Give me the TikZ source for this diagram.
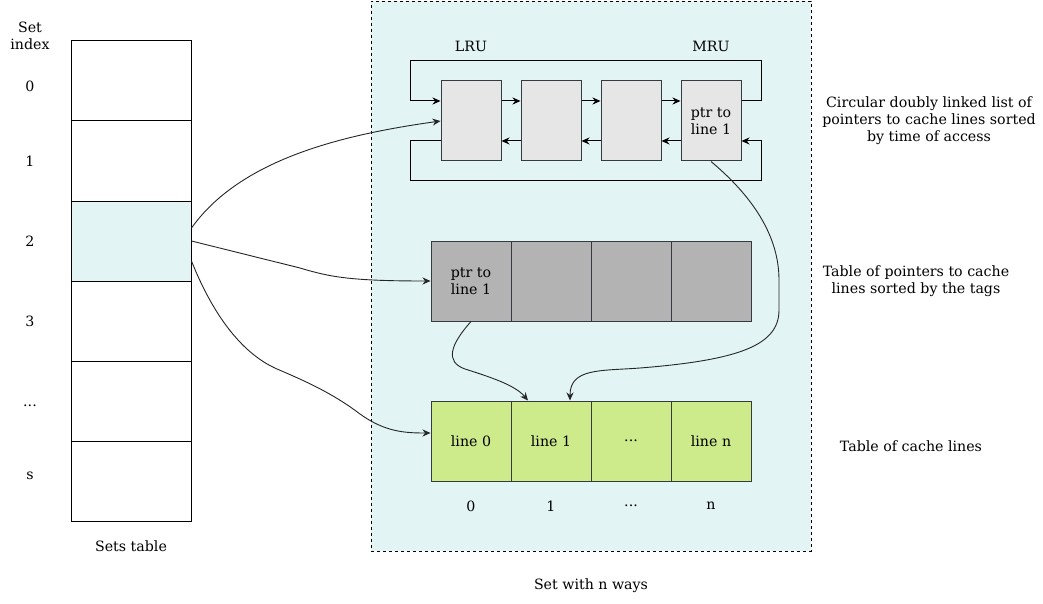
\documentclass[tikz,border=0pt]{standalone}
\usepackage{fontspec}
\setmainfont{DejaVu Serif}
\usetikzlibrary{arrows.meta}
\definecolor{setbg}{HTML}{E2F4F4}
\definecolor{lledge}{HTML}{36393D}
\definecolor{llfill}{HTML}{E6E6E6}
\definecolor{ptrfill}{HTML}{B3B3B3}
\definecolor{linefill}{HTML}{CDEB8B}
\tikzset{
  settab/.style={draw=black, line width=1pt, minimum width=120pt, minimum height=80pt, inner sep=0pt, fill=white},
  llbox/.style={draw=lledge, line width=1pt, fill=llfill, minimum width=60pt, minimum height=80pt, inner sep=0pt, align=center},
  ptrcell/.style={draw=lledge, line width=1pt, fill=ptrfill, minimum width=80pt, minimum height=80pt, inner sep=0pt, align=center},
  linecell/.style={draw=lledge, line width=1pt, fill=linefill, minimum width=80pt, minimum height=80pt, inner sep=0pt, align=center},
  lbl/.style={inner sep=0pt, align=center},
  arr/.style={draw=black, line width=1pt, -{Stealth[length=8pt,width=7pt]}},
  curv/.style={draw=black!85, line width=0.9pt, -{Stealth[length=8pt,width=7pt]}},
}
\begin{document}
\begin{tikzpicture}[x=1pt,y=-1pt, every node/.append style={font=\fontsize{14.2}{17}\selectfont}]
\useasboundingbox[fill=white] (0,0) rectangle (1043,604);
% container
\node[draw=black, dashed, line width=0.8pt, fill=setbg, minimum width=440pt, minimum height=550pt, inner sep=0pt] (setbox) at (591,276) {};
\node[lbl] (setlbl) at (591,586) {Set with n ways};
% sets table
\node[settab] (s0) at (131,81) {};
\node[settab] (s1) at (131,161) {};
\node[settab, fill=setbg] (s2) at (131,241) {};
\node[settab] (s3) at (131,321) {};
\node[settab] (s4) at (131,401) {};
\node[settab] (s5) at (131,481) {};
\node[lbl] (stlbl) at (131,546) {Sets table};
\node[lbl] (idx) at (30,36) {Set\\index};
\node[lbl] (i0) at (30,86) {0};
\node[lbl] (i1) at (30,161) {1};
\node[lbl] (i2) at (30,241) {2};
\node[lbl] (i3) at (30,321) {3};
\node[lbl] (i4) at (30,406) {...};
\node[lbl] (i5) at (30,476) {s};
% linked list
\node[lbl] (lru) at (471,46) {LRU};
\node[lbl] (mru) at (711,46) {MRU};
\node[llbox] (m1) at (471,121) {};
\node[llbox] (m2) at (551,121) {};
\node[llbox] (m3) at (631,121) {};
\node[llbox] (m4) at (711,121) {ptr to\\line 1};
\draw[arr] ([yshift=20pt]m1.east) -- ([yshift=20pt]m2.west);
\draw[arr] ([yshift=20pt]m2.east) -- ([yshift=20pt]m3.west);
\draw[arr] ([yshift=20pt]m3.east) -- ([yshift=20pt]m4.west);
\draw[arr] ([yshift=-20pt]m2.west) -- ([yshift=-20pt]m1.east);
\draw[arr] ([yshift=-20pt]m3.west) -- ([yshift=-20pt]m2.east);
\draw[arr] ([yshift=-20pt]m4.west) -- ([yshift=-20pt]m3.east);
\draw[arr] ([yshift=20pt]m4.east) -- ++(20,0) -- ++(0,-40) -| ([xshift=-30pt,yshift=20pt]m1.west) -- ([yshift=20pt]m1.west);
\draw[arr] ([yshift=-20pt]m1.west) -- ++(-30,0) -- ++(0,40) -| ([xshift=20pt,yshift=-20pt]m4.east) -- ([yshift=-20pt]m4.east);
% pointer table
\node[ptrcell] (p1) at (471,281) {ptr to\\line 1};
\node[ptrcell] (p2) at (551,281) {};
\node[ptrcell] (p3) at (631,281) {};
\node[ptrcell] (p4) at (711,281) {};
% cache lines
\node[linecell] (l0) at (471,441) {line 0};
\node[linecell] (l1) at (551,441) {line 1};
\node[linecell] (l2) at (631,441) {...};
\node[linecell] (l3) at (711,441) {line n};
\node[lbl] (w0) at (471,506) {0};
\node[lbl] (w1) at (551,506) {1};
\node[lbl] (w2) at (631,506) {...};
\node[lbl] (w3) at (711,506) {n};
% right labels
\node[lbl] (t1) at (929,121) {Circular doubly linked list of\\pointers to cache lines sorted\\by time of access};
\node[lbl] (t2) at (916,281) {Table of pointers to cache\\lines sorted by the tags};
\node[lbl] (t3) at (911,446) {Table of cache lines};
% curved connectors
\draw[curv] ([yshift=13pt]s2.east) .. controls (240,160) and (340,135) .. (m1.west);
\draw[curv] (s2.east) -- (300,268) .. controls (330,277) and (350,281) .. (p1.west);
\draw[curv] ([yshift=-20pt]s2.east) .. controls (215,320) and (245,355) .. (277,369) .. controls (310,383) and (335,395) .. (360,414) .. controls (385,432) and (405,433) .. ([yshift=8pt]l0.west);
\draw[curv] (m4.south) .. controls (745,190) and (779,230) .. (779,280) -- (779,310) .. controls (779,345) and (740,360) .. (640,368) .. controls (600,371) and (570,368) .. ([xshift=19pt]l1.north);
\draw[curv] (p1.south) .. controls (450,345) and (445,362) .. (465,369) .. controls (490,377) and (515,385) .. ([xshift=-23pt]l1.north);
\end{tikzpicture}
\end{document}
